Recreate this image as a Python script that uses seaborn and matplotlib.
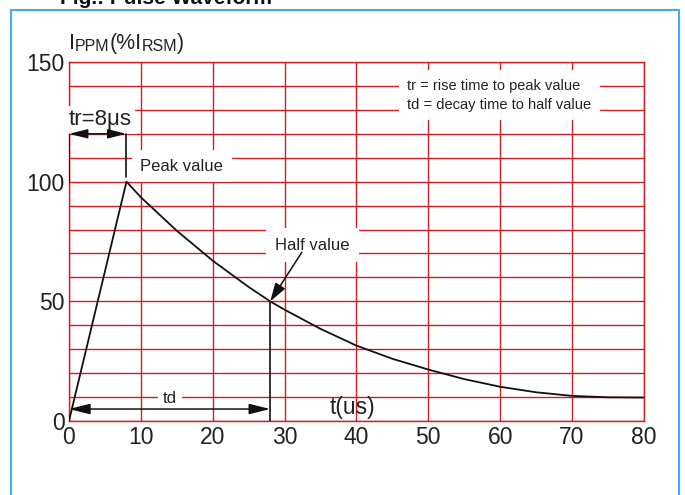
import matplotlib
matplotlib.use("Agg")
import matplotlib.pyplot as plt
from matplotlib.patches import Rectangle
import pandas as pd
import seaborn as sns

# pulse waveform (t in us, current in % of IRSM)
t_us = [0, 8, 10, 15, 20, 25, 28, 30, 35, 40, 45, 50, 55, 60, 65, 70, 75, 80]
ippm = [0, 100, 93.5, 79.5, 67, 56, 50, 46.5, 38.5, 31.5, 26, 21.5, 17.5, 14.3, 12, 10.5, 9.9, 9.8]

x_ticks = list(range(0, 81, 10))
y_grid = list(range(0, 151, 10))
y_labels = [str(v) if v % 50 == 0 else "" for v in y_grid]

rise_time = 8
decay_time = 28
peak = 100
half = 50

sns.set_theme(style="white")
plt.rcParams["font.family"] = ["Liberation Sans", "DejaVu Sans"]
NARROW = ["Liberation Sans Narrow", "Liberation Sans", "DejaVu Sans"]

RED = "#d01f24"
INK = "#222222"

fig, ax = plt.subplots(figsize=(6.85, 4.95), dpi=100)
fig.subplots_adjust(left=0.1007, right=0.940, bottom=0.1495, top=0.8747)

df = pd.DataFrame({"t": t_us, "i": ippm})
sns.lineplot(data=df, x="t", y="i", ax=ax, color="#111111", lw=1.3, zorder=5)

ax.set_xlim(0, 80)
ax.set_ylim(0, 150)
ax.set_xticks(x_ticks)
ax.set_yticks(y_grid)
ax.set_yticklabels(y_labels)
ax.grid(True, color=RED, lw=1.0)
ax.set_axisbelow(True)
for s in ax.spines.values():
    s.set_color(RED)
    s.set_linewidth(1.0)
ax.tick_params(axis="both", length=0, colors=INK)
ax.tick_params(axis="x", pad=3.5)
ax.tick_params(axis="y", pad=3)
for lab in ax.get_xticklabels() + ax.get_yticklabels():
    lab.set_family(NARROW)
    lab.set_fontsize(16.5)
ax.set_xlabel("")
ax.set_ylabel("")

# y-axis title with small caps parts
t1 = ax.text(0, 1.036, "I", transform=ax.transAxes, va="baseline", ha="left",
             fontsize=15.5, color=INK)
t2 = ax.annotate("PPM", xy=(1, 0), xycoords=t1, va="bottom", ha="left",
                 fontsize=11.5, color=INK)
t3 = ax.annotate("(%I", xy=(1, 0), xycoords=t2, va="bottom", ha="left",
                 fontsize=15.5, color=INK)
t4 = ax.annotate("RSM", xy=(1, 0), xycoords=t3, va="bottom", ha="left",
                 fontsize=11.5, color=INK)
ax.annotate(")", xy=(1, 0), xycoords=t4, va="bottom", ha="left",
            fontsize=15.5, color=INK)

white_box = dict(boxstyle="square,pad=0.5", fc="white", ec="none")

# tr marker
ax.plot([0, 0], [peak, 120], color="#111111", lw=1.2, zorder=6)
ax.plot([rise_time, rise_time], [102, 120], color="#111111", lw=1.2, zorder=6)
ax.annotate("", xy=(0, 120), xytext=(rise_time, 120),
            arrowprops=dict(arrowstyle="<|-|>,head_length=0.8,head_width=0.2",
                            color="#111111", lw=1.1, mutation_scale=14,
                            shrinkA=0, shrinkB=0), zorder=6)
ax.text(4.3, 125.8, "tr=8\u03bcs", ha="center", va="center", fontsize=16,
        family=NARROW, color=INK, zorder=4,
        bbox=dict(boxstyle="square,pad=0.15", fc="white", ec="none"))

ax.text(15.7, 106.5, "Peak value", ha="center", va="center", fontsize=12,
        color=INK, zorder=4, bbox=white_box)

ax.text(33.9, 73.5, "Half value", ha="center", va="center", fontsize=12,
        color=INK, zorder=4, bbox=dict(boxstyle="square,pad=0.55", fc="white", ec="none"))
ax.annotate("", xy=(decay_time, half), xytext=(32.4, 70.5),
            arrowprops=dict(arrowstyle="-|>,head_length=0.8,head_width=0.25",
                            color="#111111", lw=1.1, mutation_scale=14,
                            shrinkA=0, shrinkB=0), zorder=6)

# td marker
ax.plot([decay_time, decay_time], [0, half], color="#111111", lw=1.2, zorder=6)
ax.annotate("", xy=(0, 5), xytext=(decay_time, 5),
            arrowprops=dict(arrowstyle="<|-|>,head_length=0.8,head_width=0.2",
                            color="#111111", lw=1.1, mutation_scale=16,
                            shrinkA=0, shrinkB=0), zorder=6)
ax.text(14.05, 9.6, "td", ha="center", va="center", fontsize=12, color=INK,
        zorder=4, bbox=dict(boxstyle="square,pad=0.3", fc="white", ec="none"))

ax.text(39.5, 5.6, "t(us)", ha="center", va="center", fontsize=16.5, family=NARROW,
        color=INK, zorder=4)

ax.text(47.1, 136.2, "tr = rise time to peak value\ntd = decay time to half value",
        ha="left", va="center", fontsize=10.5, color=INK, linespacing=1.45, zorder=4,
        bbox=dict(boxstyle="square,pad=0.6", fc="white", ec="none"))

# blue frame and cropped caption
fig.patches.append(Rectangle((11 / 685, -0.2), (679 - 11) / 685, 1.2 - 10 / 495,
                             transform=fig.transFigure, fill=False,
                             ec="#4da6f2", lw=1.5))
fig.text(60 / 685, 1.004, "Fig.: Pulse Waveform", fontsize=15, fontweight="bold",
         color="#111111", ha="left", va="center")

fig.savefig("out.png", dpi=100)
